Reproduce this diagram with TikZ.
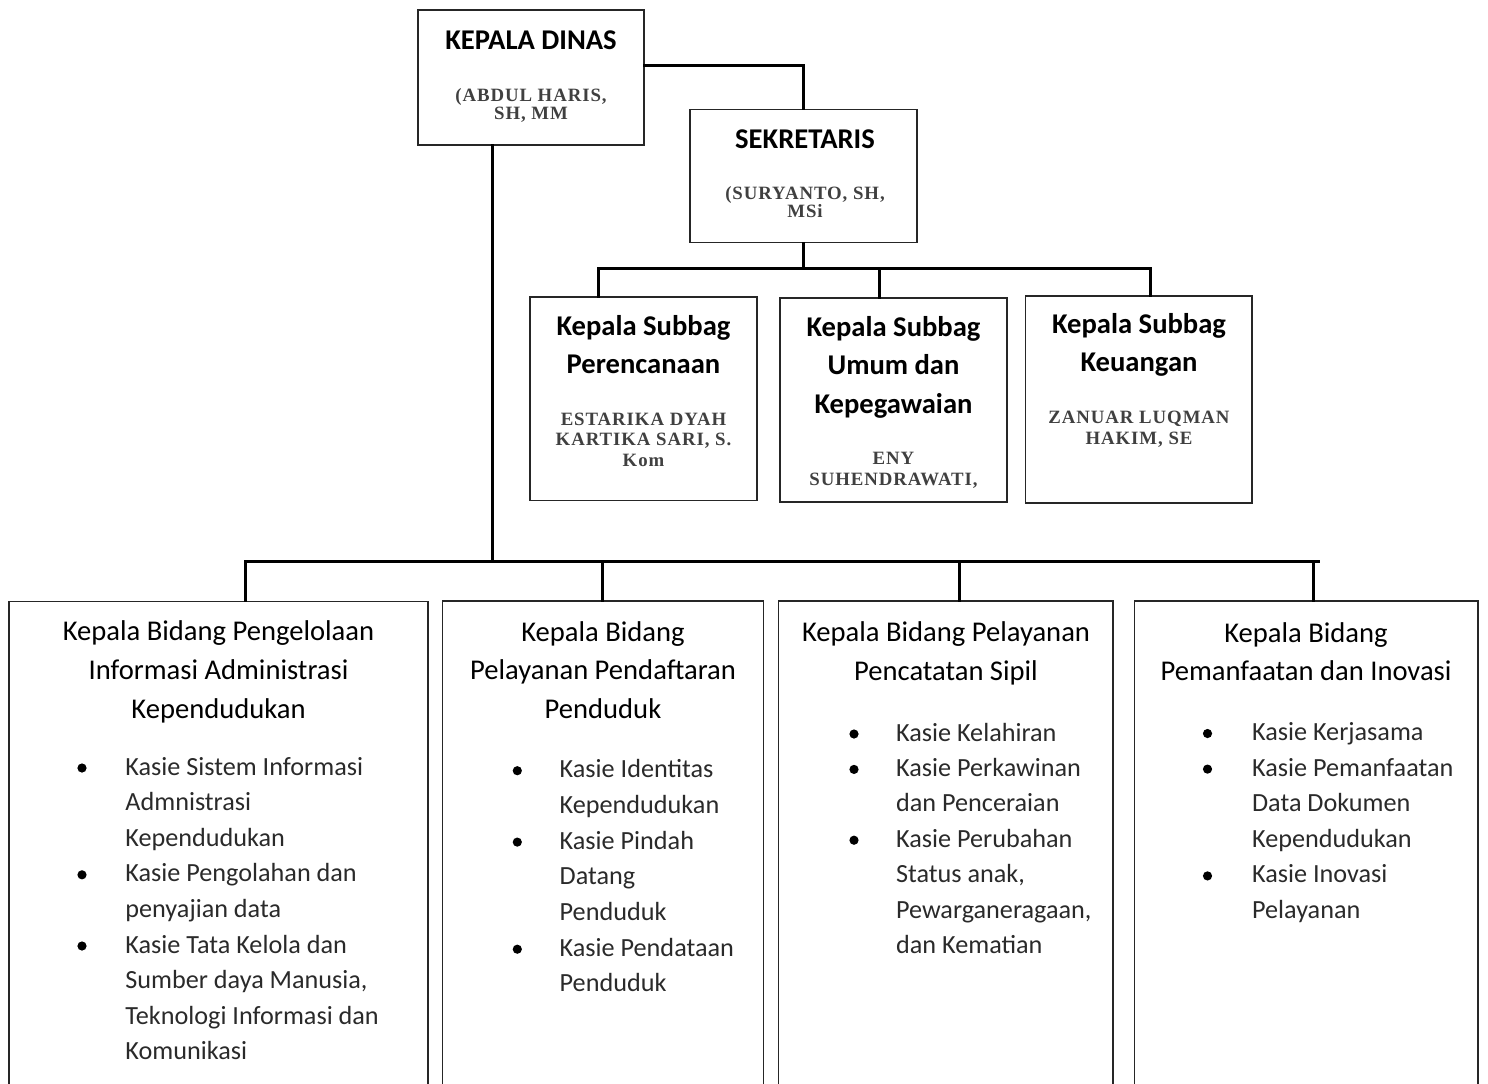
\documentclass[tikz,border=0pt]{standalone}
\usepackage{fontspec}
\setmainfont{Carlito}
\newfontfamily\namefont[LetterSpace=5]{Liberation Serif}
\usetikzlibrary{fit,calc}
\definecolor{namegray}{HTML}{404040}
\definecolor{itemgray}{HTML}{2A2A2A}
\newcommand\mylines[6]{\foreach \ltxt [count=\i] in {#6}{\node[#1] (#2\i) at (#3,{#4+(\i-1)*#5}) {\ltxt};}}
\tikzset{
  box/.style={draw=black!85, line width=0.75pt, inner sep=0pt},
  conn/.style={draw=black, line width=1.5pt, line cap=rect, line join=miter},
  hdtxt/.style={anchor=base, inner sep=0pt, font=\fontsize{14.3}{16}\selectfont\bfseries},
  nmtxt/.style={anchor=base, inner sep=0pt, text=namegray, font=\namefont\fontsize{9.4}{10}\selectfont\bfseries},
  bttl/.style={anchor=base, inner sep=0pt, font=\fontsize{14.3}{16}\selectfont},
  itemtxt/.style={anchor=base west, inner sep=0pt, text=itemgray, font=\fontsize{13.1}{15}\selectfont},
  bul/.style={circle, fill=black, inner sep=0pt, minimum size=4.6pt}
}
\begin{document}
\begin{tikzpicture}[x=0.5pt,y=-0.5pt]
\useasboundingbox (0,0) rectangle (1488,1083);
\clip (0,0) rectangle (1488,1083);
% boxes
\node[box, fit={(418,10) (644,145)}] (kd) {};
\node[box, fit={(690,109.5) (917,242.5)}] (sek) {};
\node[box, fit={(530,297) (757,500.5)}] (sp) {};
\node[box, fit={(780,298) (1007,502)}] (su) {};
\node[box, fit={(1025.5,296) (1252,503)}] (sk) {};
\node[box, fit={(9,601.5) (428,1110)}] (b1) {};
\node[box, fit={(442.5,601) (763.5,1110)}] (b2) {};
\node[box, fit={(778.5,601) (1113,1110)}] (b3) {};
\node[box, fit={(1134.5,601) (1478,1110)}] (b4) {};
% connectors
\draw[conn] ($(kd.north east)!0.41!(kd.south east)$) -| (sek.north);
\coordinate (busL) at (598,268);
\coordinate (busM) at (879,268);
\coordinate (busR) at (1150,268);
\draw[conn] (sek.south) -- (sek.south |- busL);
\draw[conn] (busL |- sp.north) -- (busL) -- (busR) -- (busR |- sk.north);
\draw[conn] (busM) -- (busM |- su.north);
\coordinate (kdl) at ($(kd.south west)!0.33!(kd.south east)$);
\coordinate (lbL) at (245,561);
\coordinate (lbR) at (1318,561);
\coordinate (d2) at (602,561);
\coordinate (d3) at (959,561);
\coordinate (d4) at (1313,561);
\draw[conn] (kdl) -- (kdl |- lbL);
\draw[conn] (lbL |- b1.north) -- (lbL) -- (lbR);
\draw[conn] (d2) -- (d2 |- b2.north);
\draw[conn] (d3) -- (d3 |- b3.north);
\draw[conn] (d4) -- (d4 |- b4.north);
% top texts
\node[hdtxt] (kdt) at (531,49.5) {KEPALA DINAS};
\mylines{nmtxt}{kdn}{531}{101.5}{17.7}{{(ABDUL HARIS,},{SH, MM}}
\node[hdtxt] (sekt) at (805,148) {SEKRETARIS};
\mylines{nmtxt}{sekn}{805}{199.5}{17.8}{{(SURYANTO, SH,},MSi}
% subbag texts
\mylines{hdtxt}{spt}{643.5}{335}{38.3}{Kepala Subbag,Perencanaan}
\mylines{nmtxt}{spn}{643.5}{425}{20.8}{ESTARIKA DYAH,{KARTIKA SARI, S.},Kom}
\mylines{hdtxt}{sut}{893.5}{336}{38.7}{Kepala Subbag,Umum dan,Kepegawaian}
\mylines{nmtxt}{sun}{893.5}{464}{21}{ENY,{SUHENDRAWATI,}}
\mylines{hdtxt}{skt}{1139}{333.3}{38.4}{Kepala Subbag,Keuangan}
\mylines{nmtxt}{skn}{1139}{423.3}{20.7}{ZANUAR LUQMAN,{HAKIM, SE}}
% bidang titles
\mylines{bttl}{b1t}{218.5}{640}{39}{Kepala Bidang Pengelolaan,Informasi Administrasi,Kependudukan}
\mylines{bttl}{b2t}{603}{641}{38.5}{Kepala Bidang,Pelayanan Pendaftaran,Penduduk}
\mylines{bttl}{b3t}{946}{641.5}{39.3}{Kepala Bidang Pelayanan,Pencatatan Sipil}
\mylines{bttl}{b4t}{1306}{642}{38.5}{Kepala Bidang,Pemanfaatan dan Inovasi}
% items
\mylines{itemtxt}{b1i}{125}{775}{35.6}{Kasie Sistem Informasi,Admnistrasi,Kependudukan,Kasie Pengolahan dan,penyajian data,Kasie Tata Kelola dan,{Sumber daya Manusia,},Teknologi Informasi dan,Komunikasi}
\mylines{itemtxt}{b2i}{559.3}{777.7}{35.7}{Kasie Identitas,Kependudukan,Kasie Pindah,Datang,Penduduk,Kasie Pendataan,Penduduk}
\mylines{itemtxt}{b3i}{895.7}{741}{35.4}{Kasie Kelahiran,Kasie Perkawinan,dan Penceraian,Kasie Perubahan,{Status anak,},{Pewarganeragaan,},dan Kematian}
\mylines{itemtxt}{b4i}{1251.7}{740.5}{35.6}{Kasie Kerjasama,Kasie Pemanfaatan,Data Dokumen,Kependudukan,Kasie Inovasi,Pelayanan}
% bullets
\node[bul] (b1p1) at (82,768) {};
\node[bul] (b1p2) at (82,874.8) {};
\node[bul] (b1p3) at (82,946) {};
\node[bul] (b2p1) at (517.3,770.7) {};
\node[bul] (b2p2) at (517.3,842.1) {};
\node[bul] (b2p3) at (517.3,949.2) {};
\node[bul] (b3p1) at (854,734) {};
\node[bul] (b3p2) at (854,769.4) {};
\node[bul] (b3p3) at (854,840.2) {};
\node[bul] (b4p1) at (1207.5,733.5) {};
\node[bul] (b4p2) at (1207.5,769.1) {};
\node[bul] (b4p3) at (1207.5,875.9) {};
\end{tikzpicture}
\end{document}
